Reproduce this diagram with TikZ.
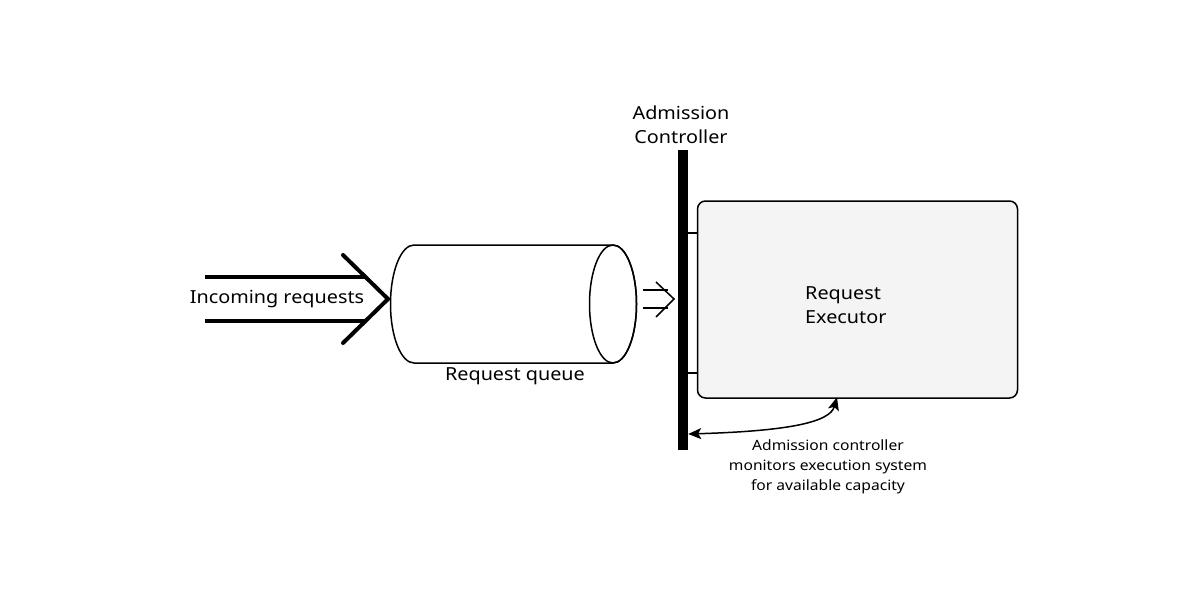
\documentclass[tikz,border=0pt]{standalone}
\usepackage{fontspec}
\setmainfont{Noto Sans}[FakeStretch=1.1]
\usetikzlibrary{arrows.meta}
\definecolor{boxfill}{HTML}{F4F4F4}
\tikzset{
  lbl/.style={inner sep=0pt, font=\fontsize{18}{24}\selectfont, align=center},
  small/.style={inner sep=0pt, font=\fontsize{14.2}{20}\selectfont, align=center},
  thick4/.style={line width=4pt, line join=miter},
  thin2/.style={line width=1.5pt},
  bar/.style={fill=black, draw=none},
  monarrow/.style={line width=1.5pt, {Stealth[length=13pt,width=11pt,inset=3pt]}-{Stealth[length=13pt,width=11pt,inset=3pt]}},
}
\begin{document}
\begin{tikzpicture}[x=1pt,y=-1pt]
\useasboundingbox (0,0) rectangle (1200,600);
% incoming big arrow
\coordinate (inA) at (205,277);
\coordinate (inAe) at (366,277);
\coordinate (inB) at (205,321);
\coordinate (inBe) at (366,321);
\coordinate (chT) at (343,255);
\coordinate (chTip) at (388,299);
\coordinate (chB) at (343,343);
\draw[thick4] (inA) -- (inAe);
\draw[thick4] (inB) -- (inBe);
\draw[thick4, line cap=round] (chT) -- (chTip) -- (chB);
\node[lbl, fill=white, inner sep=1pt] (incoming) at (277,299) {Incoming requests};
% cylinder
\coordinate (cylTL) at (414,245);
\coordinate (cylTR) at (613,245);
\coordinate (cylBR) at (613,363);
\coordinate (cylBL) at (414,363);
\draw[thin2, fill=white] (cylTL) -- (cylTR) -- (cylTR) arc[start angle=270, end angle=450, x radius=23.5, y radius=59] -- (cylBL) arc[start angle=90, end angle=270, x radius=23.5, y radius=59] -- cycle;
\draw[thin2] (613,304) ellipse[x radius=23.5, y radius=59];
\node[lbl] (queue) at (515,376) {Request queue};
% small double arrow
\coordinate (sA) at (643,290);
\coordinate (sAe) at (668,290);
\coordinate (sB) at (643,308);
\coordinate (sBe) at (668,308);
\coordinate (sT) at (656,282);
\coordinate (sTip) at (674,299);
\coordinate (sBt) at (656,317);
\draw[thin2] (sA) -- (sAe);
\draw[thin2] (sB) -- (sBe);
\draw[thin2] (sT) -- (sTip) -- (sBt);
% admission bar
\node[bar, minimum width=10pt, minimum height=300pt, inner sep=0pt] (bar) at (683,300) {};
\node[lbl] (adm) at (681,125) {Admission\\Controller};
% executor box
\node[draw, fill=boxfill, line width=1.5pt, rounded corners=8pt, minimum width=320pt, minimum height=197pt, inner sep=0pt] (exec) at (857.5,299.5) {};
\node[lbl, align=left, anchor=west] (execlbl) at (805,305) {Request\\Executor};
\draw[thin2] (bar.east |- 0,233) -- (exec.west |- 0,233);
\draw[thin2] (bar.east |- 0,373) -- (exec.west |- 0,373);
% monitoring arrow
\coordinate (mon) at (837,400);
\draw[monarrow] (bar.east |- 0,434) .. controls (790,431) and (830,422) .. ([yshift=1.5pt]exec.south -| mon);
\node[small] (note) at (828,467) {Admission controller\\monitors execution system\\for available capacity};
\end{tikzpicture}
\end{document}
